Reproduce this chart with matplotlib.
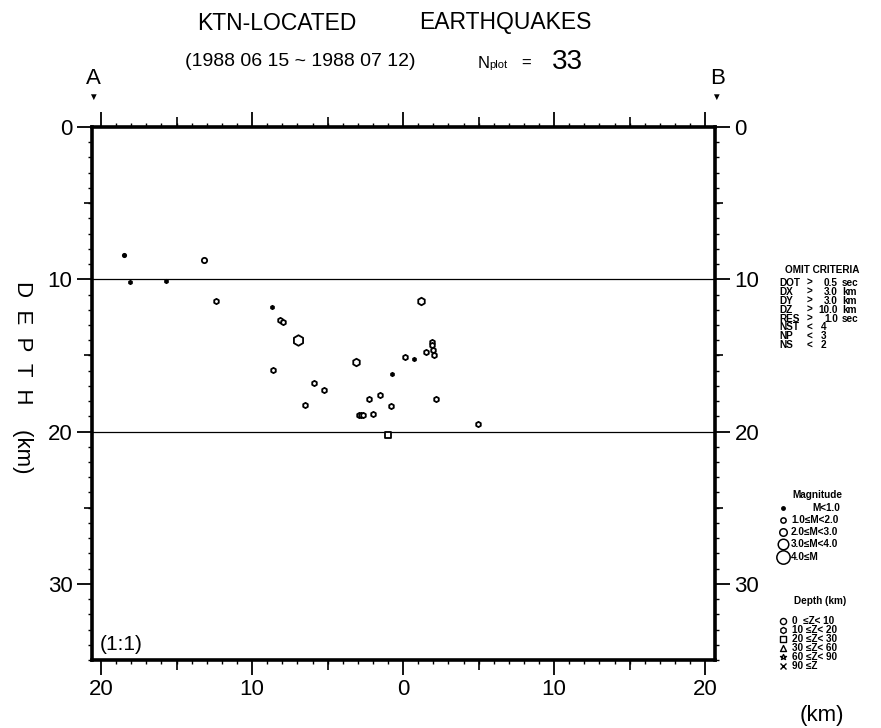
import matplotlib
matplotlib.use('Agg')
import matplotlib.pyplot as plt
from matplotlib.lines import Line2D
from matplotlib.markers import MarkerStyle
from matplotlib.ticker import FixedLocator, FuncFormatter
import numpy as np

plt.rcParams['font.family'] = ['Liberation Sans', 'DejaVu Sans']

# ---- data (distance along A-B profile in km, depth in km, magnitude) ----
dist_km = [-18.46, -18.10, -15.70, -13.16, -12.38, -8.68, -8.15, -7.93, -6.95,
           -8.63, -5.90, -5.26, -6.49, -3.11, -2.23, -1.55, -0.82, -1.97,
           -2.95, -2.80, -2.65, -1.00, -0.71, 0.11, 0.70, 1.21, 1.50,
           1.90, 1.92, 2.00, 2.03, 2.16, 4.97]
depth_km = [8.38, 10.15, 10.13, 8.73, 11.42, 11.79, 12.69, 12.82, 14.00,
            15.97, 16.80, 17.30, 18.24, 15.42, 17.83, 17.60, 18.35, 18.85,
            18.88, 18.88, 18.88, 20.23, 16.20, 15.10, 15.24, 11.42, 14.78,
            14.10, 14.33, 14.65, 14.96, 17.87, 19.50]
magnitude = [0.5, 0.5, 0.5, 1.5, 1.5, 0.5, 1.5, 1.5, 3.5,
             1.5, 1.5, 1.5, 1.5, 2.5, 1.5, 1.5, 1.5, 1.5,
             1.5, 1.5, 1.5, 1.5, 0.5, 1.5, 0.5, 2.5, 1.5,
             1.5, 1.5, 1.5, 1.5, 1.5, 1.5]

x_ticks = [-20, -10, 0, 10, 20]
y_ticks = [0, 10, 20, 30]
mag_labels = ['M<1.0', '1.0≤M<2.0', '2.0≤M<3.0', '3.0≤M<4.0', '4.0≤M']
depth_labels = ['0  ≤Z< 10', '10 ≤Z< 20', '20 ≤Z< 30', '30 ≤Z< 60', '60 ≤Z< 90', '90 ≤Z']
omit_names = ['DOT', 'DX', 'DY', 'DZ', 'RES', 'NST', 'NP', 'NS']
omit_ops = ['>', '>', '>', '>', '>', '<', '<', '<']
omit_vals = ['0.5', '3.0', '3.0', '10.0', '1.0', '4', '3', '2']
omit_units = ['sec', 'km', 'km', 'km', 'sec', '', '', '']

# ---- styles ----
mag_edges = [1.0, 2.0, 3.0, 4.0]
mag_sizes = [2.4, 3.8, 5.4, 7.6, 9.6]
depth_edges = [10, 20, 30, 60, 90]
depth_markers = ['o', 'h', 's', '^', '*', 'x']

W, H = 881, 728
def fx(p):
    return p / W
def fy(p):
    return 1 - p / H

fig = plt.figure(figsize=(W / 100, H / 100), dpi=100)
ax = fig.add_axes([fx(92), fy(660), 623 / W, 533 / H])
ax.set_xlim(-20.6, 20.65)
ax.set_ylim(35, 0)

# reference depth lines
for d in (10, 20):
    ax.axhline(d, color='black', lw=0.9, zorder=1)

# events
for x, z, m in zip(dist_km, depth_km, magnitude):
    mi = int(np.searchsorted(mag_edges, m, side='right'))
    di = int(np.searchsorted(depth_edges, z, side='right'))
    filled = mi == 0
    mk = MarkerStyle(depth_markers[di], joinstyle='round')
    ax.plot([x], [z], linestyle='none', marker=mk,
            ms=mag_sizes[mi], mfc='black' if filled else 'white',
            mec='black', mew=1.3, zorder=3)

# axes frame and ticks
for s in ax.spines.values():
    s.set_linewidth(2.6)

fmt = FuncFormatter(lambda v, p: f"{abs(int(round(v)))}")
ax.set_xticks(x_ticks)
ax.xaxis.set_major_formatter(fmt)
ax.xaxis.set_minor_locator(FixedLocator(np.arange(-20, 21, 1)))
ax.tick_params(axis='x', which='major', direction='out', length=11, width=1.3,
               top=True, bottom=True, labelsize=16, pad=3)
ax.tick_params(axis='x', which='minor', direction='out', length=3, width=1.0,
               top=True, bottom=True)

ax.set_yticks(y_ticks)
ax.yaxis.set_minor_locator(FixedLocator(np.arange(0, 36, 1)))
ax.tick_params(axis='y', which='major', direction='out', length=11, width=1.3,
               left=True, right=True, labelleft=True, labelright=True,
               labelsize=16, pad=3)
ax.tick_params(axis='y', which='minor', direction='out', length=3, width=1.0,
               left=True, right=True)

for loc in ('bottom', 'top'):
    sx = ax.secondary_xaxis(loc)
    sx.set_xticks([-15, -5, 5, 15])
    sx.tick_params(direction='out', length=7, width=1.2,
                   labelbottom=False, labeltop=False)
    for s in sx.spines.values():
        s.set_visible(False)
for loc in ('left', 'right'):
    sy = ax.secondary_yaxis(loc)
    sy.set_yticks([5, 15, 25])
    sy.tick_params(direction='out', length=6, width=1.2,
                   labelleft=False, labelright=False)
    for s in sy.spines.values():
        s.set_visible(False)

# ---- titles and labels ----
fig.text(fx(197), fy(23), 'KTN-LOCATED', ha='left', va='center', size=16.5)
fig.text(fx(419), fy(23), 'EARTHQUAKES', ha='left', va='center', size=16.5)
fig.text(fx(300), fy(62), '(1988 06 15 ~ 1988 07 12)', ha='center', va='center', size=14)
fig.text(fx(478), fy(63), 'N', ha='left', va='center', size=12)
fig.text(fx(489), fy(65), 'plot', ha='left', va='center', size=8)
fig.text(fx(521), fy(63), '=', ha='left', va='center', size=12)
fig.text(fx(552), fy(62), '33', ha='left', va='center', size=20)
fig.text(fx(93), fy(78), 'A', ha='center', va='center', size=16)
fig.text(fx(93), fy(97), '▼', ha='center', va='center', size=7)
fig.text(fx(718), fy(78), 'B', ha='center', va='center', size=16)
fig.text(fx(716), fy(97), '▼', ha='center', va='center', size=7)
fig.text(fx(22), fy(377), 'D  E  P  T  H    (km)', ha='center', va='center', size=16, rotation=-90)
fig.text(fx(100), fy(645), '(1:1)', ha='left', va='center', size=15)
fig.text(fx(822), fy(715), '(km)', ha='center', va='center', size=16)

# ---- right panel ----
pfont = dict(family=['Liberation Sans Narrow', 'Liberation Sans', 'DejaVu Sans'],
             weight='bold', size=7.2)
fig.text(fx(822), fy(270), 'OMIT CRITERIA', ha='center', va='center', **pfont)
for i in range(len(omit_names)):
    yy = 283 + i * 8.9
    fig.text(fx(779), fy(yy), omit_names[i], ha='left', va='center', **pfont)
    fig.text(fx(807), fy(yy), omit_ops[i], ha='left', va='center', **pfont)
    if omit_units[i]:
        fig.text(fx(838), fy(yy), omit_vals[i], ha='right', va='center', **pfont)
        fig.text(fx(842), fy(yy), omit_units[i], ha='left', va='center', **pfont)
    else:
        fig.text(fx(821), fy(yy), omit_vals[i], ha='left', va='center', **pfont)

fig.text(fx(817), fy(495), 'Magnitude', ha='center', va='center', **pfont)
for i, lab in enumerate(mag_labels):
    yy = [508, 520, 532, 544, 557][i]
    fig.add_artist(Line2D([fx(783)], [fy(yy)], linestyle='none', marker='o',
                          ms=mag_sizes[i], mfc='black' if i == 0 else 'white',
                          mec='black', mew=1.1, transform=fig.transFigure))
    if i == 0:
        fig.text(fx(840), fy(yy), lab, ha='right', va='center', **pfont)
    else:
        fig.text(fx(791), fy(yy), lab, ha='left', va='center', **pfont)

fig.text(fx(820), fy(601), 'Depth (km)', ha='center', va='center', **pfont)
for i, lab in enumerate(depth_labels):
    yy = 621 + i * 9
    fig.add_artist(Line2D([fx(783)], [fy(yy)], linestyle='none',
                          marker=MarkerStyle(depth_markers[i], joinstyle='round'),
                          ms=4.4, mfc='white', mec='black', mew=1.0,
                          transform=fig.transFigure))
    fig.text(fx(792), fy(yy), lab, ha='left', va='center', **pfont)

fig.savefig('out.png', dpi=100)
